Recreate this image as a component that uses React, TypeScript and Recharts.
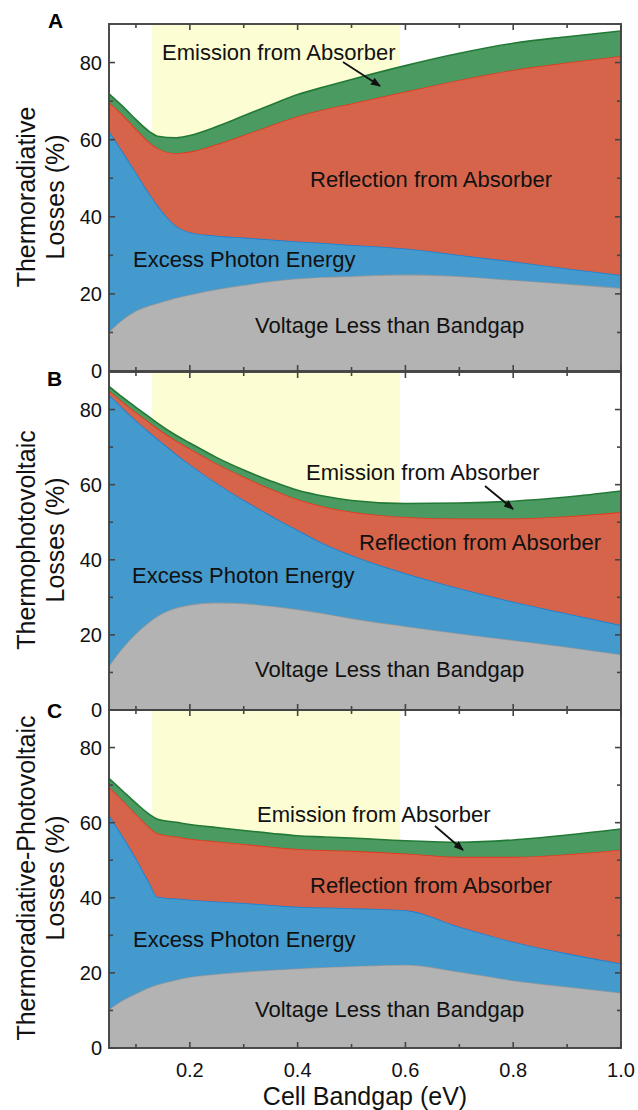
import { AreaChart, Area, XAxis, YAxis, ReferenceArea } from 'recharts';

// cell bandgap (eV) sample points
const BANDGAP = [0.05, 0.075, 0.1, 0.125, 0.14, 0.175, 0.2, 0.25, 0.3, 0.35, 0.4, 0.45, 0.5, 0.6, 0.7, 0.8, 0.9, 1.0];

// A - thermoradiative losses (%)
const TR_VOLTAGE = [10.2, 13.3, 15.6, 17.0, 17.6, 19.0, 19.8, 21.2, 22.3, 23.3, 24.0, 24.4, 24.6, 25.0, 24.6, 23.6, 22.6, 21.5];
const TR_EXCESS = [52.1, 43.7, 35.9, 29.0, 25.4, 18.6, 16.2, 13.9, 12.3, 10.8, 9.6, 8.8, 8.1, 6.8, 5.5, 4.8, 4.0, 3.4];
const TR_REFLECTION = [7.5, 9.5, 11.3, 13.3, 14.8, 18.9, 20.9, 23.7, 26.6, 29.6, 32.5, 34.7, 36.7, 40.7, 45.4, 49.7, 53.4, 56.8];
const TR_EMISSION = [2.1, 2.2, 2.4, 2.8, 3.1, 4.0, 4.2, 4.6, 5.0, 5.3, 5.6, 5.8, 6.2, 6.7, 6.9, 6.9, 6.7, 6.5];

// B - thermophotovoltaic losses (%)
const TPV_VOLTAGE = [11.8, 16.5, 20.4, 23.5, 25.0, 27.2, 28.0, 28.6, 28.4, 27.7, 26.8, 25.7, 24.4, 22.3, 20.4, 18.6, 16.8, 14.8];
const TPV_EXCESS = [72.2, 64.0, 56.7, 50.5, 47.2, 40.9, 37.4, 31.8, 27.5, 24.1, 21.1, 18.5, 16.8, 14.1, 12.0, 10.2, 8.9, 7.8];
const TPV_REFLECTION = [1.1, 1.6, 2.2, 2.6, 2.8, 3.6, 4.2, 5.2, 6.2, 7.1, 8.2, 9.9, 11.6, 15.0, 18.6, 22.2, 25.9, 30.1];
const TPV_EMISSION = [1.1, 1.2, 1.3, 1.4, 1.4, 1.4, 1.5, 1.6, 1.8, 2.1, 2.4, 2.8, 3.0, 3.6, 4.1, 4.6, 5.1, 5.6];

// C - thermoradiative-photovoltaic losses (%)
const TRPV_VOLTAGE = [10.3, 12.7, 14.5, 16.2, 16.9, 18.2, 18.9, 19.7, 20.3, 20.8, 21.2, 21.5, 21.8, 22.2, 20.3, 18.0, 16.3, 14.7];
const TRPV_EXCESS = [51.8, 43.8, 36.0, 27.8, 23.4, 21.6, 20.6, 19.3, 18.3, 17.3, 16.4, 15.9, 15.4, 14.5, 12.0, 10.3, 8.9, 7.8];
const TRPV_REFLECTION = [7.5, 9.5, 11.8, 14.8, 16.9, 16.5, 16.2, 16.0, 15.7, 15.5, 15.4, 15.3, 15.3, 15.1, 18.6, 22.6, 26.4, 30.3];
const TRPV_EMISSION = [2.2, 2.5, 2.9, 3.4, 3.7, 3.8, 3.8, 3.7, 3.6, 3.6, 3.5, 3.5, 3.4, 3.4, 3.9, 4.5, 5.1, 5.5];

const X_TICKS = [0.1, 0.2, 0.3, 0.4, 0.5, 0.6, 0.7, 0.8, 0.9, 1.0];
const Y_TICKS = [0, 10, 20, 30, 40, 50, 60, 70, 80];
const X_DOMAIN = [0.05, 1];
const Y_DOMAIN = [0, 90];
const HIGHLIGHT = [0.13, 0.59];

const FONT = '"Liberation Sans", Arial, Helvetica, sans-serif';
const FRAME = '#444444';

// plot box of each panel on the page
const PLOT_LEFT = 109;
const PLOT_RIGHT = 621;
const PANEL_BOXES = [
  { top: 24, bottom: 371 },
  { top: 372, bottom: 710 },
  { top: 710, bottom: 1048 },
];

const buildRows = (v: number[], e: number[], r: number[], m: number[]) =>
  BANDGAP.map((x, i) => ({ x, voltage: v[i], excess: e[i], reflection: r[i], emission: m[i] }));

const isMajorX = (v: number) => Math.round(v * 10) % 2 === 0;
const isMajorY = (v: number) => v % 20 === 0;

function Panel({ data, top, height, showX }: { data: any[]; top: number; height: number; showX: boolean }) {
  const bottomTick = (p: any) => {
    const v = p.payload.value;
    if (!showX || !isMajorX(v)) return <g />;
    return (
      <text x={p.x} y={p.y + 29} textAnchor='middle' fontSize={20} fontFamily={FONT} fill='#111'>
        {v.toFixed(1)}
      </text>
    );
  };
  const leftTick = (p: any) => {
    const v = p.payload.value;
    if (!isMajorY(v)) return <g />;
    return (
      <text x={p.x - 7} y={p.y} dy='0.35em' textAnchor='end' fontSize={20} fontFamily={FONT} fill='#111'>
        {v}
      </text>
    );
  };

  return (
    <div style={{ position: 'absolute', left: 0, top }}>
      <AreaChart
        width={638}
        height={height}
        data={data}
        margin={{ top: 12, right: 17, bottom: showX ? 0 : 12, left: 0 }}
      >
        <XAxis
          xAxisId='b'
          dataKey='x'
          type='number'
          domain={X_DOMAIN}
          ticks={X_TICKS}
          interval={0}
          height={showX ? 62 : 0}
          tickSize={0}
          tickMargin={0}
          tickLine={false}
          axisLine={false}
          tick={bottomTick}
        />
        <YAxis
          yAxisId='l'
          type='number'
          domain={Y_DOMAIN}
          ticks={Y_TICKS}
          interval={0}
          width={109}
          tickSize={0}
          tickMargin={0}
          tickLine={false}
          axisLine={false}
          tick={leftTick}
        />
        <ReferenceArea
          xAxisId='b'
          yAxisId='l'
          x1={HIGHLIGHT[0]}
          x2={HIGHLIGHT[1]}
          y1={Y_DOMAIN[0]}
          y2={Y_DOMAIN[1]}
          fill='#fdfdd4'
          fillOpacity={1}
          stroke='none'
        />
        <Area xAxisId='b' yAxisId='l' type='monotone' dataKey='voltage' stackId='s' fill='#b3b3b3' fillOpacity={1} stroke='#999999' strokeWidth={1.6} dot={false} activeDot={false} isAnimationActive={false} />
        <Area xAxisId='b' yAxisId='l' type='monotone' dataKey='excess' stackId='s' fill='#4499cd' fillOpacity={1} stroke='#1b7fd3' strokeWidth={1.6} dot={false} activeDot={false} isAnimationActive={false} />
        <Area xAxisId='b' yAxisId='l' type='monotone' dataKey='reflection' stackId='s' fill='#d5644b' fillOpacity={1} stroke='#e8361c' strokeWidth={1.6} dot={false} activeDot={false} isAnimationActive={false} />
        <Area xAxisId='b' yAxisId='l' type='monotone' dataKey='emission' stackId='s' fill='#4a9a62' fillOpacity={1} stroke='#237a37' strokeWidth={1.6} dot={false} activeDot={false} isAnimationActive={false} />
      </AreaChart>
    </div>
  );
}

// frame with inward ticks on all four sides
function Frame({ top, bottom }: { top: number; bottom: number }) {
  const sx = (v: number) => PLOT_LEFT + ((v - X_DOMAIN[0]) / (X_DOMAIN[1] - X_DOMAIN[0])) * (PLOT_RIGHT - PLOT_LEFT);
  const sy = (v: number) => bottom - ((v - Y_DOMAIN[0]) / (Y_DOMAIN[1] - Y_DOMAIN[0])) * (bottom - top);
  const s = { stroke: FRAME, strokeWidth: 1.6 };
  return (
    <g>
      {X_TICKS.map((v) => {
        const len = isMajorX(v) ? 6 : 4;
        const x = sx(v);
        return (
          <g key={'x' + v}>
            <line x1={x} x2={x} y1={bottom} y2={bottom - len} {...s} />
            <line x1={x} x2={x} y1={top} y2={top + len} {...s} />
          </g>
        );
      })}
      {Y_TICKS.map((v) => {
        const len = isMajorY(v) ? 6 : 4;
        const y = sy(v);
        return (
          <g key={'y' + v}>
            <line x1={PLOT_LEFT} x2={PLOT_LEFT + len} y1={y} y2={y} {...s} />
            <line x1={PLOT_RIGHT} x2={PLOT_RIGHT - len} y1={y} y2={y} {...s} />
          </g>
        );
      })}
      <rect x={PLOT_LEFT} y={top} width={PLOT_RIGHT - PLOT_LEFT} height={bottom - top} fill='none' stroke={FRAME} strokeWidth={1.9} />
    </g>
  );
}

function Arrow({ x1, y1, x2, y2 }: { x1: number; y1: number; x2: number; y2: number }) {
  return <line x1={x1} y1={y1} x2={x2} y2={y2} stroke='#111' strokeWidth={1.8} markerEnd='url(#head)' />;
}

export default function App() {
  const lbl = { fontSize: 22, fontFamily: FONT, fill: '#111' };
  const ttl = { fontSize: 25, fontFamily: FONT, fill: '#111', textAnchor: 'middle' as const };
  const letter = { fontSize: 21, fontFamily: FONT, fontWeight: 700, fill: '#000' };
  return (
    <div style={{ position: 'absolute', left: 0, top: 0, width: 638, height: 1110, background: '#fff' }}>
      <Panel data={buildRows(TR_VOLTAGE, TR_EXCESS, TR_REFLECTION, TR_EMISSION)} top={12} height={371} showX={false} />
      <Panel data={buildRows(TPV_VOLTAGE, TPV_EXCESS, TPV_REFLECTION, TPV_EMISSION)} top={360} height={362} showX={false} />
      <Panel data={buildRows(TRPV_VOLTAGE, TRPV_EXCESS, TRPV_REFLECTION, TRPV_EMISSION)} top={698} height={412} showX={true} />
      <svg width={638} height={1110} style={{ position: 'absolute', left: 0, top: 0, pointerEvents: 'none' }}>
        <defs>
          <marker id='head' markerWidth='10' markerHeight='8' refX='9' refY='4' orient='auto' markerUnits='userSpaceOnUse'>
            <path d='M0,0 L10,4 L0,8 z' fill='#111' />
          </marker>
        </defs>
        {PANEL_BOXES.map((b, i) => (
          <Frame key={i} top={b.top} bottom={b.bottom} />
        ))}

        <text x={48} y={28} {...letter}>A</text>
        <text x={47} y={386} {...letter}>B</text>
        <text x={47} y={718} {...letter}>C</text>

        <text transform='translate(35,197) rotate(-90)' {...ttl}>Thermoradiative</text>
        <text transform='translate(64,197) rotate(-90)' {...ttl}>Losses (%)</text>
        <text transform='translate(35,540) rotate(-90)' {...ttl}>Thermophotovoltaic</text>
        <text transform='translate(64,540) rotate(-90)' {...ttl}>Losses (%)</text>
        <text transform='translate(35,878) rotate(-90)' {...ttl}>Thermoradiative-Photovoltaic</text>
        <text transform='translate(64,878) rotate(-90)' {...ttl}>Losses (%)</text>
        <text x={365} y={1105} {...ttl}>Cell Bandgap (eV)</text>

        <text x={162} y={60} {...lbl}>Emission from Absorber</text>
        <Arrow x1={343} y1={62} x2={380} y2={86} />
        <text x={310} y={187} {...lbl}>Reflection from Absorber</text>
        <text x={133} y={267} {...lbl}>Excess Photon Energy</text>
        <text x={255} y={333} {...lbl}>Voltage Less than Bandgap</text>

        <text x={306} y={480} {...lbl}>Emission from Absorber</text>
        <Arrow x1={485} y1={486} x2={513} y2={509} />
        <text x={359} y={550} {...lbl}>Reflection from Absorber</text>
        <text x={132} y={583} {...lbl}>Excess Photon Energy</text>
        <text x={255} y={677} {...lbl}>Voltage Less than Bandgap</text>

        <text x={257} y={822} {...lbl}>Emission from Absorber</text>
        <Arrow x1={435} y1={826} x2={463} y2={850} />
        <text x={310} y={893} {...lbl}>Reflection from Absorber</text>
        <text x={133} y={947} {...lbl}>Excess Photon Energy</text>
        <text x={255} y={1017} {...lbl}>Voltage Less than Bandgap</text>
      </svg>
    </div>
  );
}
